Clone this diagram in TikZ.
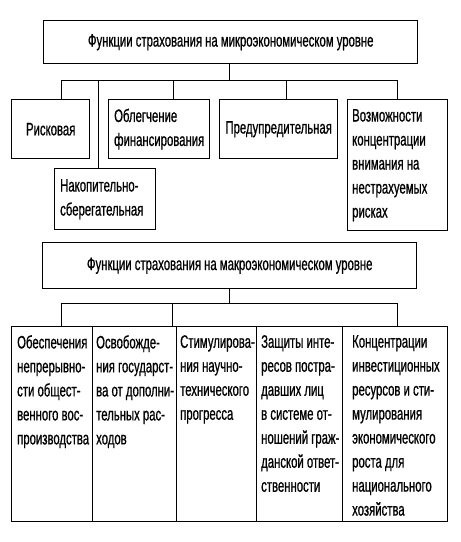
\documentclass[tikz,border=0pt]{standalone}
\usepackage{fontspec}
\setmainfont{Liberation Sans}[FakeStretch=0.63,FakeBold=0.7]
\begin{document}
\begin{tikzpicture}[x=1pt,y=-1pt,
  box/.style={draw, line width=1.4pt, inner sep=0pt, anchor=north west},
  txt/.style={inner sep=0pt, font=\fontsize{18}{24}\selectfont, align=left},
  ln/.style={line width=0.9pt}]
\useasboundingbox[fill=white] (0,0) rectangle (461,542);
% ---------- micro level ----------
\node[box, minimum width=374pt, minimum height=43pt] (micro) at (43,20) {};
\node[txt] (microT) at (micro.center) {Функции страхования на микроэкономическом уровне};
\node[box, minimum width=78pt, minimum height=59pt] (risk) at (11,99) {};
\node[box, minimum width=101pt, minimum height=61pt] (nak) at (54,168) {};
\node[box, minimum width=101pt, minimum height=59pt] (obl) at (108,99) {};
\node[box, minimum width=118pt, minimum height=59pt] (pre) at (219,99) {};
\node[box, minimum width=100pt, minimum height=131pt] (voz) at (347,99) {};
\node[txt] (riskT) at (risk.center) {Рисковая};
\node[txt, anchor=west] (nakT) at ([xshift=6pt]nak.west) {Накопительно-\\сберегательная};
\node[txt, anchor=west] (oblT) at ([xshift=6pt]obl.west) {Облегчение\\финансирования};
\node[txt] (preT) at (pre.center) {Предупредительная};
\node[txt, anchor=west] (vozT) at ([xshift=5pt]voz.west) {Возможности\\концентрации\\внимания на\\нестрахуемых\\рисках};
\coordinate (mbus) at (229,80);
\coordinate (m1) at (61,80);
\coordinate (m2) at (98,80);
\coordinate (m3) at (173,80);
\coordinate (m4) at (286,80);
\coordinate (m5) at (397,80);
\draw[ln] (micro.south -| mbus) -- (mbus);
\draw[ln] (m1) -- (m5);
\draw[ln] (m1) -- (m1 |- risk.north);
\draw[ln] (m2) -- (m2 |- nak.north);
\draw[ln] (m3) -- (m3 |- obl.north);
\draw[ln] (m4) -- (m4 |- pre.north);
\draw[ln] (m5) -- (m5 |- voz.north);
% ---------- macro level ----------
\node[box, minimum width=374pt, minimum height=46pt] (macro) at (42,242) {};
\node[txt] (macroT) at (macro.center) {Функции страхования на макроэкономическом уровне};
\node[box, minimum width=81pt, minimum height=195pt] (c1) at (11,326) {};
\node[box, minimum width=84pt, minimum height=195pt] (c2) at (92,326) {};
\node[box, minimum width=80pt, minimum height=195pt] (c3) at (176,326) {};
\node[box, minimum width=86pt, minimum height=195pt] (c4) at (256,326) {};
\node[box, minimum width=105pt, minimum height=195pt] (c5) at (342,326) {};
\node[txt, anchor=north west] (c1T) at (17,335) {Обеспечения\\непрерывно-\\сти общест-\\венного вос-\\производства};
\node[txt, anchor=north west] (c2T) at (96,335) {Освобожде-\\ния государст-\\ва от дополни-\\тельных рас-\\ходов};
\node[txt, anchor=north west] (c3T) at (180,335) {Стимулирова-\\ния научно-\\технического\\прогресса};
\node[txt, anchor=north west] (c4T) at (261,335) {Защиты инте-\\ресов постра-\\давших лиц\\в системе от-\\ношений граж-\\данской ответ-\\ственности};
\node[txt, anchor=north west] (c5T) at (352,335) {Концентрации\\инвестиционных\\ресурсов и сти-\\мулирования\\экономического\\роста для\\национального\\хозяйства};
\coordinate (kbus) at (229,303);
\coordinate (k1) at (61,303);
\coordinate (k2) at (172,303);
\coordinate (k5) at (397,303);
\draw[ln] (macro.south -| kbus) -- (kbus);
\draw[ln] (k1) -- (k5);
\draw[ln] (k1) -- (k1 |- c1.north);
\draw[ln] (k2) -- (k2 |- c2.north);
\draw[ln] (k5) -- (k5 |- c5.north);
\end{tikzpicture}
\end{document}
